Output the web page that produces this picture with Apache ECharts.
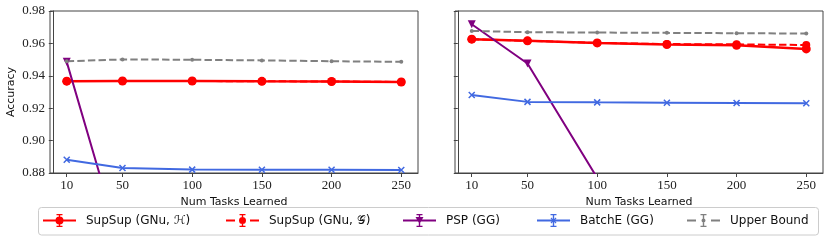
<!DOCTYPE html>
<html>
<head>
<meta charset="utf-8">
<script src="https://cdn.jsdelivr.net/npm/echarts@6/dist/echarts.min.js"></script>
<style>html,body{margin:0;padding:0;background:#fff}#c{width:830px;height:241px}</style>
</head>
<body>
<div id="c"></div>
<script>
// ---- data ----
var tasks = [10, 50, 100, 150, 200, 250];
var xTicks = [10, 50, 100, 150, 200, 250];
var yTicks = [0.88, 0.90, 0.92, 0.94, 0.96, 0.98];
var seriesNames = ['SupSup (GNu, \u210B)', 'SupSup (GNu, \uD835\uDCA2)', 'PSP (GG)', 'BatchE (GG)', 'Upper Bound'];
// left panel
var leftSupSupH = [0.9367, 0.9368, 0.9368, 0.9366, 0.9365, 0.9362];
var leftSupSupG = [0.9367, 0.9368, 0.9368, 0.9366, 0.9365, 0.9362];
var leftPSP     = [0.9486, 0.831, 0.78, 0.74, 0.71, 0.69];
var leftBatchE  = [0.8882, 0.8831, 0.8821, 0.8820, 0.8820, 0.8818];
var leftUpper   = [0.9490, 0.9501, 0.9499, 0.9495, 0.9490, 0.9486];
// right panel
var rightSupSupH = [0.9626, 0.9616, 0.9603, 0.9593, 0.9588, 0.9566];
var rightSupSupG = [0.9626, 0.9616, 0.9603, 0.9596, 0.9594, 0.9590];
var rightPSP     = [0.9718, 0.9476, 0.877, 0.80, 0.74, 0.70];
var rightBatchE  = [0.9282, 0.9239, 0.9236, 0.9234, 0.9232, 0.9230];
var rightUpper   = [0.9677, 0.9669, 0.9667, 0.9665, 0.9663, 0.9661];

function pairs(ys){ return tasks.map(function(x,i){ return [x, ys[i]]; }); }

var RED = '#ff0000', PURPLE = '#800080', BLUE = '#4169e1', GRAY = '#808080';
var AX = '#444';
var serif = 'Liberation Serif';
var sans = 'DejaVu Sans';

function xAxis(gi){
  return {
    type:'value', gridIndex:gi, min:-2, max:262,
    name:'Num Tasks Learned', nameLocation:'middle', nameGap:23,
    nameTextStyle:{fontFamily:sans, fontSize:11, color:'#111'},
    axisLine:{show:true, lineStyle:{color:AX, width:1}},
    axisTick:{show:true, length:4, customValues:xTicks, lineStyle:{color:AX}},
    axisLabel:{customValues:xTicks, fontFamily:serif, fontSize:13, color:'#222', margin:6},
    splitLine:{show:false}
  };
}
function yAxis(gi, labels){
  return {
    type:'value', gridIndex:gi, min:0.88, max:0.98, interval:0.02,
    name: labels ? 'Accuracy' : '', nameLocation:'middle', nameGap:33,
    nameTextStyle:{fontFamily:sans, fontSize:11, color:'#111'},
    axisLine:{show:true, lineStyle:{color:AX, width:1}},
    axisTick:{show:true, length:4, lineStyle:{color:AX}},
    axisLabel:{show:labels, fontFamily:serif, fontSize:13, color:'#222', margin:5,
      formatter:function(v){ return v.toFixed(2); }},
    splitLine:{show:false}
  };
}

var xMark = 'path://M0,0L10,10M10,0L0,10';
function mk(name, gi, data, color, opts){
  var s = {
    name:name, type:'line', xAxisIndex:gi, yAxisIndex:gi, data:pairs(data),
    lineStyle:{color:color, width:opts.w||2, type:opts.dash?[7.4,3.2]:'solid'},
    itemStyle:{color:color, borderColor:color, borderWidth:opts.bw||0},
    symbol:opts.symbol, symbolSize:opts.size, showSymbol:true,
    clip:true, animation:false, z:opts.z||2
  };
  return s;
}
function panel(gi, H, G, P, B, U){
  return [
    mk(seriesNames[0], gi, H, RED, {w:2.5, symbol:'circle', size:9}),
    mk(seriesNames[1], gi, G, RED, {w:2, dash:true, symbol:'circle', size:8}),
    mk(seriesNames[2], gi, P, PURPLE, {w:2, symbol:'triangle', size:8}),
    mk(seriesNames[3], gi, B, BLUE, {w:2, symbol:xMark, size:6, bw:1.5}),
    mk(seriesNames[4], gi, U, GRAY, {w:2, dash:true, symbol:'circle', size:4})
  ];
}
var series = panel(0, leftSupSupH, leftSupSupG, leftPSP, leftBatchE, leftUpper)
  .concat(panel(1, rightSupSupH, rightSupSupG, rightPSP, rightBatchE, rightUpper));
// triangle down
series.forEach(function(s){ if(s.symbol==='triangle'){ s.symbolRotate = 180; } });

// legend icons (33 x 13)
var eb = 'M15.8,0H17.2V13H15.8Z M13.5,0H19.5V1.2H13.5Z M13.5,11.8H19.5V13H13.5Z ';
var solidLine = 'M0,5.6H33V7.4H0Z ';
var dashLine = 'M0,5.6H9V7.4H0Z M24,5.6H33V7.4H24Z ';
var circ = function(r){ return 'M'+(16.5-r)+',6.5A'+r+','+r+' 0 1,1 '+(16.5+r)+',6.5A'+r+','+r+' 0 1,1 '+(16.5-r)+',6.5Z '; };
var icons = [
  'path://' + solidLine + eb + circ(4),
  'path://' + dashLine + eb + circ(3.5),
  'path://' + solidLine + eb + 'M12.5,3H20.5L16.5,10Z',
  'path://' + solidLine + eb + 'M13.5,4.3L14.3,3.5L16.5,5.7L18.7,3.5L19.5,4.3L17.3,6.5L19.5,8.7L18.7,9.5L16.5,7.3L14.3,9.5L13.5,8.7L15.7,6.5Z',
  'path://' + dashLine + eb + circ(2)
];
var legendLeft = [43, 226, 403, 537, 687];
var legends = seriesNames.map(function(n,i){
  return {
    data:[{name:n, icon:icons[i]}],
    left:legendLeft[i], top:214, padding:0,
    itemWidth:33, itemHeight:13, itemGap:0,
    itemStyle:{borderWidth:0},
    textStyle:{fontFamily:sans, fontSize:12, color:'#111', padding:[0,0,0,5]},
    selectedMode:false
  };
});

var chart = echarts.init(document.getElementById('c'), null, {renderer:'canvas'});
chart.setOption({
  animation:false,
  backgroundColor:'#fff',
  grid:[
    {left:50, right:412, top:11, bottom:68, show:true, borderColor:AX, borderWidth:1, containLabel:false},
    {left:455, right:7, top:11, bottom:68, show:true, borderColor:AX, borderWidth:1, containLabel:false}
  ],
  xAxis:[xAxis(0), xAxis(1)],
  yAxis:[yAxis(0,true), yAxis(1,false)],
  graphic:[{type:'rect', shape:{x:38.5, y:207.5, width:780, height:27.5, r:3},
    style:{fill:'rgba(255,255,255,0.8)', stroke:'#cccccc', lineWidth:1}, z:-1}],
  legend:legends,
  series:series
});
</script>
</body>
</html>
